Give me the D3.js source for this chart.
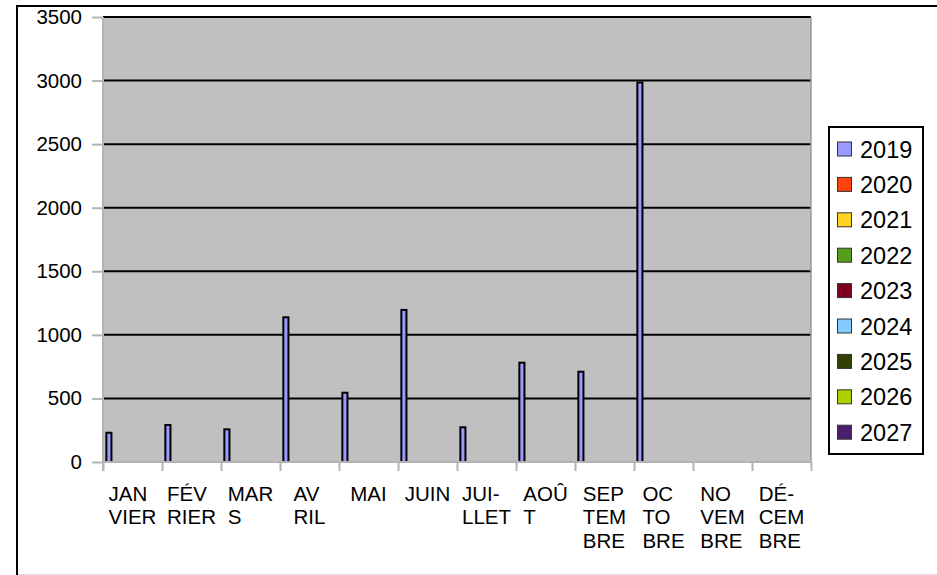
<!DOCTYPE html>
<html>
<head>
<meta charset="utf-8">
<script src="https://cdn.jsdelivr.net/npm/d3@7/dist/d3.min.js"></script>
<style>
  html, body { margin: 0; padding: 0; background: #ffffff; }
  svg { display: block; font-family: "Liberation Sans", Arial, sans-serif; }
</style>
</head>
<body>
<svg id="chart" width="937" height="575"></svg>
<script>
// ---- data ----
const monthLabels = [
  ["JAN", "VIER"], ["FÉV", "RIER"], ["MAR", "S"], ["AV", "RIL"], ["MAI"], ["JUIN"],
  ["JUI-", "LLET"], ["AOÛ", "T"], ["SEP", "TEM", "BRE"], ["OC", "TO", "BRE"],
  ["NO", "VEM", "BRE"], ["DÉ-", "CEM", "BRE"]
];
const years = ["2019", "2020", "2021", "2022", "2023", "2024", "2025", "2026", "2027"];
const yearColors = ["#9999ff", "#ff420e", "#ffd320", "#579d1c", "#7e0021", "#83caff", "#314004", "#aecf00", "#4b1f6f"];
const values2019 = [230, 291, 257, 1138, 545, 1196, 273, 781, 710, 2985, null, null];
const values2020 = [null, null, null, null, null, null, null, null, null, null, null, null];
const values2021 = [null, null, null, null, null, null, null, null, null, null, null, null];
const values2022 = [null, null, null, null, null, null, null, null, null, null, null, null];
const values2023 = [null, null, null, null, null, null, null, null, null, null, null, null];
const values2024 = [null, null, null, null, null, null, null, null, null, null, null, null];
const values2025 = [null, null, null, null, null, null, null, null, null, null, null, null];
const values2026 = [null, null, null, null, null, null, null, null, null, null, null, null];
const values2027 = [null, null, null, null, null, null, null, null, null, null, null, null];
const yTicks = [0, 500, 1000, 1500, 2000, 2500, 3000, 3500];

const seriesValues = [values2019, values2020, values2021, values2022, values2023,
                      values2024, values2025, values2026, values2027];

// ---- layout ----
const svg = d3.select("#chart");
const plot = { left: 103, right: 811, top: 17, bottom: 462 };

// outer border
svg.append("rect").attr("x", 17).attr("y", 6).attr("width", 940).attr("height", 590)
  .attr("fill", "none").attr("stroke", "#000").attr("stroke-width", 2);
svg.append("line").attr("x1", 18).attr("x2", 937).attr("y1", 574.5).attr("y2", 574.5)
  .attr("stroke", "#dddddd").attr("stroke-width", 1);

const monthIdx = d3.range(monthLabels.length);
const x = d3.scaleBand().domain(monthIdx).range([plot.left, plot.right]).paddingInner(0).paddingOuter(0);
const xEdges = d3.scaleLinear().domain([0, monthLabels.length]).range([plot.left, plot.right]);
const sub = d3.scaleBand().domain(years).range([0, x.bandwidth()]).paddingInner(0).paddingOuter(0.5);
const y = d3.scaleLinear().domain([0, 3500]).range([plot.bottom, plot.top]);

// plot background
svg.append("rect").attr("x", plot.left).attr("y", plot.top)
  .attr("width", plot.right - plot.left).attr("height", plot.bottom - plot.top)
  .attr("fill", "#c0c0c0");

// gridlines
svg.append("g").selectAll("line").data(yTicks.filter(d => d > 0)).join("line")
  .attr("x1", plot.left).attr("x2", plot.right)
  .attr("y1", d => y(d)).attr("y2", d => y(d))
  .attr("stroke", "#000").attr("stroke-width", 2);

// right edge of plot
svg.append("line").attr("x1", plot.right).attr("x2", plot.right)
  .attr("y1", plot.top).attr("y2", plot.bottom)
  .attr("stroke", "#9a9a9a").attr("stroke-width", 1.5);

// bars
const barData = [];
seriesValues.forEach((vals, s) => {
  vals.forEach((v, m) => { if (v != null && v > 0) barData.push({ s, m, v }); });
});
svg.append("g").selectAll("rect").data(barData).join("rect")
  .attr("x", d => x(d.m) + sub(years[d.s]) + 0.4)
  .attr("width", sub.bandwidth() - 0.8)
  .attr("y", d => y(d.v))
  .attr("height", d => y(0) - y(d.v))
  .attr("fill", d => yearColors[d.s])
  .attr("stroke", "#000").attr("stroke-width", 2);

// y axis
const yAxis = svg.append("g").attr("transform", `translate(${plot.left},0)`)
  .call(d3.axisLeft(y).tickValues(yTicks).tickSize(11).tickPadding(10).tickFormat(d3.format("d")));
yAxis.select(".domain").attr("stroke", "#b3b3b3").attr("stroke-width", 2)
  .attr("d", `M0,${plot.top}V${plot.bottom + 9}`);
yAxis.selectAll(".tick line").attr("stroke", "#b3b3b3").attr("stroke-width", 2);
yAxis.selectAll(".tick text").attr("font-size", "20.5px").attr("fill", "#000")
  .attr("font-family", "'Liberation Sans', Arial, sans-serif");

// x axis
const xAxis = svg.append("g").attr("transform", `translate(0,${plot.bottom})`)
  .call(d3.axisBottom(xEdges).tickValues(d3.range(monthLabels.length + 1)).tickSize(9).tickFormat(""));
xAxis.select(".domain").attr("stroke", "#b3b3b3").attr("stroke-width", 2)
  .attr("d", `M${plot.left},0H${plot.right}`);
xAxis.selectAll(".tick line").attr("stroke", "#b3b3b3").attr("stroke-width", 2);

// x labels
const labelG = svg.append("g").attr("font-size", "20.5px").attr("fill", "#000");
monthLabels.forEach((lines, i) => {
  const t = labelG.append("text").attr("y", 501);
  lines.forEach((ln, j) => {
    t.append("tspan").attr("dy", j === 0 ? 0 : 23.3).text(ln);
  });
  let maxW = 0;
  t.selectAll("tspan").each(function () { maxW = Math.max(maxW, this.getComputedTextLength()); });
  const left = x(i) + x.bandwidth() / 2 - maxW / 2;
  t.selectAll("tspan").attr("x", left);
});

// legend
const lg = svg.append("g");
lg.append("rect").attr("x", 829).attr("y", 127).attr("width", 94).attr("height", 327)
  .attr("fill", "#fff").attr("stroke", "#000").attr("stroke-width", 2);
const items = lg.selectAll("g.item").data(years).join("g").attr("class", "item")
  .attr("transform", (d, i) => `translate(0,${149 + i * 35.4})`);
items.append("rect").attr("x", 837.5).attr("y", -7).attr("width", 14).attr("height", 14)
  .attr("fill", (d, i) => yearColors[i]).attr("stroke", "#333").attr("stroke-width", 1);
items.append("text").attr("x", 860).attr("y", 8.5).attr("font-size", "23.5px")
  .attr("fill", "#000").text(d => d);
</script>
</body>
</html>
